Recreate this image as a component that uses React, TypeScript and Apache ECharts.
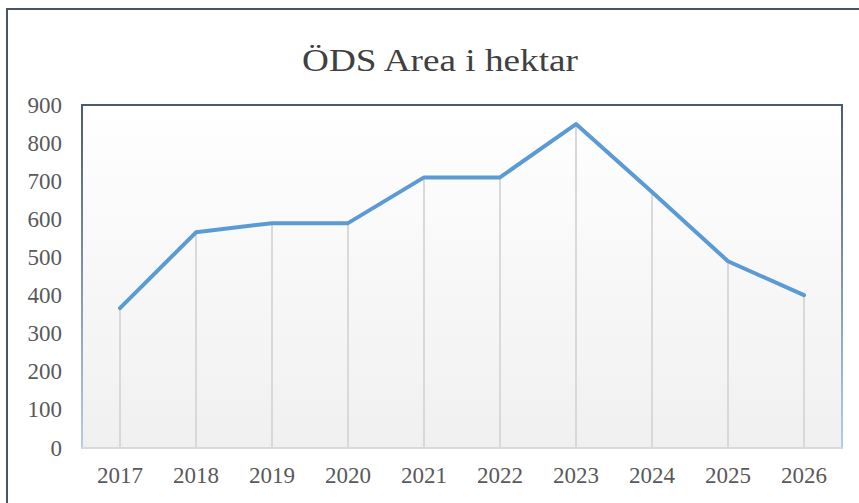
import React, { useEffect, useRef } from "react";
import * as echarts from "echarts";

const titleText = "ÖDS Area i hektar";
const years = ["2017", "2018", "2019", "2020", "2021", "2022", "2023", "2024", "2025", "2026"];
const areaHa = [367, 566, 590, 590, 710, 710, 850, 672, 490, 401];
const yMin = 0;
const yMax = 900;
const yStep = 100;

export default function App() {
  const ref = useRef<HTMLDivElement>(null);
  useEffect(() => {
    if (!ref.current) return;
    const chart = echarts.init(ref.current, undefined, { renderer: "svg" });
    const serif = "'Liberation Serif', 'Times New Roman', serif";
    chart.setOption({
      animation: false,
      backgroundColor: "#ffffff",
      graphic: [
        {
          type: "text",
          x: 440,
          y: 60.5,
          scaleX: 1.2,
          style: {
            text: titleText,
            fontFamily: serif,
            fontSize: 31,
            fill: "#404040",
            textAlign: "center",
            textVerticalAlign: "middle",
          },
          silent: true,
        },
        {
          type: "rect",
          shape: { x: 7, y: 9, width: 900, height: 600 },
          style: { fill: "none", stroke: "#4A5568", lineWidth: 2 },
          silent: true,
          z: 100,
        },
      ],
      grid: {
        left: 82,
        right: 17,
        top: 105,
        bottom: 55,
        show: true,
        backgroundColor: new echarts.graphic.LinearGradient(0, 0, 0, 1, [
          { offset: 0, color: "#ffffff" },
          { offset: 1, color: "#f0f0f0" },
        ]),
        borderColor: new echarts.graphic.LinearGradient(0, 0, 0, 1, [
          { offset: 0, color: "#4d5b70" },
          { offset: 1, color: "#b8cbea" },
        ]),
        borderWidth: 2,
      },
      xAxis: {
        type: "category",
        data: years,
        boundaryGap: true,
        axisLine: { show: true, lineStyle: { color: "#d9d9d9", width: 2 } },
        axisTick: { show: false },
        axisLabel: { fontFamily: serif, fontSize: 23, color: "#595959", margin: 16 },
        splitLine: { show: false },
      },
      yAxis: {
        type: "value",
        min: yMin,
        max: yMax,
        interval: yStep,
        axisLine: { show: false },
        axisTick: { show: false },
        splitLine: { show: false },
        axisLabel: { fontFamily: serif, fontSize: 23, color: "#595959", margin: 20 },
      },
      series: [
        {
          type: "bar",
          data: areaHa,
          barWidth: 2,
          itemStyle: { color: "#d9d9d9" },
          silent: true,
          z: 1,
        },
        {
          type: "line",
          data: areaHa,
          symbol: "none",
          lineStyle: { color: "#5b9bd5", width: 4, cap: "round", join: "round" },
          z: 3,
        },
      ],
    });
    return () => chart.dispose();
  }, []);
  return <div ref={ref} style={{ position: "fixed", left: 0, top: 0, width: 859, height: 503 }} />;
}
